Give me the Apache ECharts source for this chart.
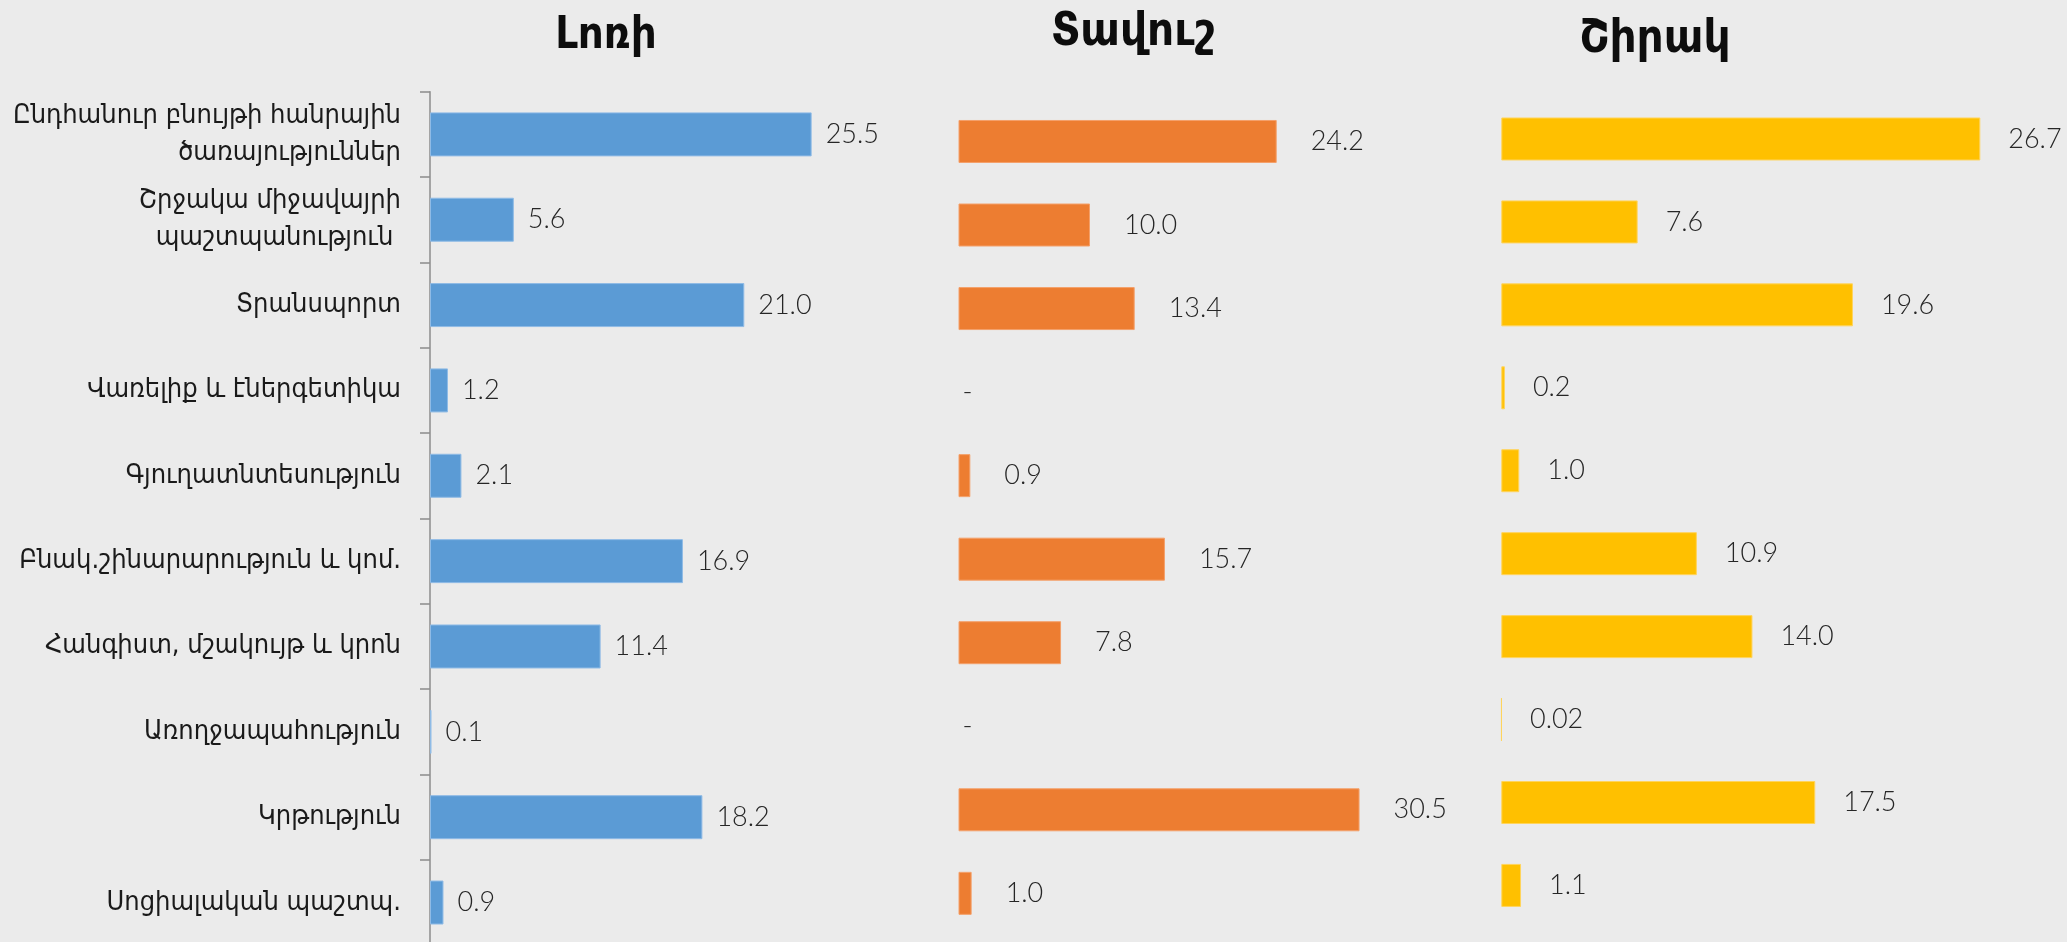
<!DOCTYPE html>
<html>
<head>
<meta charset="utf-8">
<script src="https://cdn.jsdelivr.net/npm/echarts@6/dist/echarts.min.js"></script>
<style>
html,body{margin:0;padding:0;background:#ebebeb;}
#chart{width:2067px;height:942px;}
</style>
</head>
<body>
<div id="chart"></div>
<script>
var categories = [
  'Ընդհանուր բնույթի հանրային\nծառայություններ',
  'Շրջակա միջավայրի\nպաշտպանություն ',
  'Տրանսպորտ',
  'Վառելիք և էներգետիկա',
  'Գյուղատնտեսություն',
  'Բնակ.շինարարություն և կոմ.',
  'Հանգիստ, մշակույթ և կրոն',
  'Առողջապահություն',
  'Կրթություն',
  'Սոցիալական պաշտպ.'
];
var regionNames = ['Լոռի', 'Տավուշ', 'Շիրակ'];
var loriValues   = [25.5, 5.6, 21.0, 1.2, 2.1, 16.9, 11.4, 0.1, 18.2, 0.9];
var tavushValues = [24.2, 10.0, 13.4, null, 0.9, 15.7, 7.8, null, 30.5, 1.0];
var shirakValues = [26.7, 7.6, 19.6, 0.2, 1.0, 10.9, 14.0, 0.02, 17.5, 1.1];

var colors = ['#5B9BD5', '#ED7D31', '#FFC000'];
var borders = ['#8fbbe6', '#f4a06a', '#ffd45c'];

var chart = echarts.init(document.getElementById('chart'), null, {renderer: 'canvas'});

var panels = [
  {vals: loriValues,   left: 430,    top: 91.7, height: 853.5, max: 30, width: 449,   bw: 44, dist: 14, title: {x: 601,  y: 9,  size: 45}},
  {vals: tavushValues, left: 958.5,  top: 99.7, height: 835.4, max: 35, width: 460.2, bw: 43, dist: 34, title: {x: 1128, y: 4,  size: 47}},
  {vals: shirakValues, left: 1501.3, top: 97.5, height: 829.4, max: 30, width: 538.2, bw: 43, dist: 28, title: {x: 1650, y: 11, size: 47}}
];

function fmt(v) {
  if (v === null || v === undefined) return '-';
  return (Math.round(v * 10) === v * 10) ? v.toFixed(1) : String(v);
}

var labelFont = {fontFamily: 'Lato, "Open Sans", sans-serif', fontWeight: 300, fontSize: 27, color: '#262626'};

var option = {
  backgroundColor: '#ebebeb',
  animation: false,
  title: panels.map(function (p, i) {
    return {
      text: regionNames[i],
      left: p.title.x,
      top: p.title.y,
      textAlign: 'center',
      textStyle: {fontFamily: '"DejaVu Sans Condensed", "DejaVu Sans", sans-serif', fontWeight: 'bold', fontSize: p.title.size, color: '#0d0d0d'}
    };
  }),
  grid: panels.map(function (p) {
    return {left: p.left, top: p.top, width: p.width, height: p.height, containLabel: false, outerBoundsMode: 'none'};
  }),
  xAxis: panels.map(function (p, i) {
    return {type: 'value', gridIndex: i, min: 0, max: p.max, show: false};
  }),
  yAxis: panels.map(function (p, i) {
    var isFirst = i === 0;
    return {
      type: 'category',
      gridIndex: i,
      data: categories,
      inverse: true,
      axisLine: {show: isFirst, lineStyle: {color: '#8c8c8c', width: 1.5}},
      axisTick: {show: isFirst, length: 10, lineStyle: {color: '#8c8c8c', width: 1.5}},
      axisLabel: {
        show: isFirst,
        margin: 29,
        fontFamily: '"DejaVu Sans Condensed", "DejaVu Sans", sans-serif',
        fontSize: 27,
        lineHeight: 37,
        color: '#1a1a1a',
        align: 'right'
      },
      splitLine: {show: false}
    };
  }),
  series: panels.map(function (p, i) {
    return {
      type: 'bar',
      xAxisIndex: i,
      yAxisIndex: i,
      barWidth: p.bw,
      data: p.vals.map(function (v) {
        if (v === null) {
          return {value: 0, itemStyle: {color: 'rgba(0,0,0,0)', borderWidth: 0}, label: {distance: 4, color: '#262626'}};
        }
        return v;
      }),
      itemStyle: {color: colors[i], borderColor: borders[i], borderWidth: 1},
      label: Object.assign({
        show: true,
        position: 'right',
        distance: p.dist,
        formatter: function (params) { return fmt(p.vals[params.dataIndex]); }
      }, labelFont)
    };
  })
};
chart.setOption(option);
</script>
</body>
</html>
